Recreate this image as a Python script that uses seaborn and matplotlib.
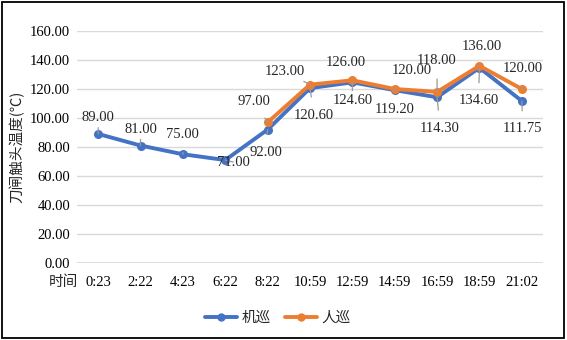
import numpy as np
import pandas as pd
import matplotlib
matplotlib.use("Agg")
import matplotlib.pyplot as plt
import seaborn as sns
from matplotlib.patches import Rectangle
from matplotlib.lines import Line2D

times = ["0:23", "2:22", "4:23", "6:22", "8:22", "10:59", "12:59", "14:59", "16:59", "18:59", "21:02"]
machine = [89.00, 81.00, 75.00, 71.00, 92.00, 120.60, 124.60, 119.20, 114.30, 134.60, 111.75]
manual = [np.nan, np.nan, np.nan, np.nan, 97.00, 123.00, 126.00, 120.00, 118.00, 136.00, 120.00]
yticks = [0, 20, 40, 60, 80, 100, 120, 140, 160]
series_names = ["机巡", "人巡"]
ylabel = "刀闸触头温度(℃)"
xtitle = "时间"

sns.set_theme(style="white")
SERIF = ["Liberation Serif", "Noto Sans CJK SC", "DejaVu Sans"]
CJK = ["Noto Sans CJK SC", "DejaVu Sans"]
plt.rcParams["font.family"] = SERIF

df = pd.DataFrame({
    "idx": list(range(len(times))) * 2,
    "val": machine + manual,
    "series": [series_names[0]] * len(times) + [series_names[1]] * len(times),
})
df = df.dropna()

colors = {"机巡": "#4472C4", "人巡": "#ED7D31"}

fig = plt.figure(figsize=(5.67, 3.40), dpi=100)
ax = fig.add_axes([77/567, 1 - 263/340, (543-77)/567, (263-31)/340])

sns.lineplot(data=df, x="idx", y="val", hue="series", palette=colors,
             marker="o", markersize=6.5, markeredgewidth=0, linewidth=2.8,
             ax=ax, legend=False, sort=False, zorder=3)

ax.set_xlim(-0.5, len(times) - 0.5)
ax.set_ylim(0, 160)
ax.set_yticks(yticks)
ax.set_yticklabels([f"{v:.2f}" for v in yticks], fontsize=10.5, family=SERIF)
ax.set_xticks(range(len(times)))
ax.set_xticklabels(times, fontsize=10.5, family=SERIF)
ax.tick_params(axis="y", length=0, pad=5, colors="black")
ax.tick_params(axis="x", length=0, pad=9, colors="black")
ax.grid(axis="y", color="#D9D9D9", linewidth=1)
ax.grid(axis="x", visible=False)
for s in ax.spines.values():
    s.set_visible(False)
ax.axhline(0, color="#D9D9D9", linewidth=1.2, zorder=1)
ax.set_xlabel("")
ax.set_ylabel(ylabel, fontsize=10.5, labelpad=4, family=CJK)
ax.text(0.002, -0.083, xtitle, transform=ax.transAxes, ha="right", va="center",
        fontsize=10.5, family=CJK)

# data label offsets (pixels)
m_off = [(0, 16), (0, 16), (0, 20), (8, -2), (-2, -23), (4, -27), (0, -18), (0, -19), (3, -31), (-1, -33), (1, -28)]
h_off = [None, None, None, None, (-14, 21), (-25, 13), (-7, 18), (17, 18), (0, 31), (2, 19), (1, 21)]

arrow = dict(arrowstyle="-", color="#9A9A9A", lw=0.9, shrinkA=6, shrinkB=0)
for i, v in enumerate(machine):
    dx, dy = m_off[i]
    ax.annotate(f"{v:.2f}", (i, v), xytext=(dx, dy), textcoords="offset pixels",
                ha="center", va="center", fontsize=10.5, zorder=5, family=SERIF,
                arrowprops=arrow)
for i, v in enumerate(manual):
    if np.isnan(v):
        continue
    dx, dy = h_off[i]
    ax.annotate(f"{v:.2f}", (i, v), xytext=(dx, dy), textcoords="offset pixels",
                ha="center", va="center", fontsize=10.5, zorder=5, family=SERIF,
                arrowprops=arrow)

handles = [Line2D([], [], color=colors[n], lw=2.8, marker="o", markersize=6, markeredgewidth=0) for n in series_names]
fig.legend(handles, series_names, loc="center", bbox_to_anchor=(278/567, 1 - 318/340), ncol=2,
           frameon=False, handlelength=2.2, columnspacing=1.0, handletextpad=0.3,
           prop={"family": CJK, "size": 10.5})

fig.patches.append(Rectangle((0.003, 0.005), 0.992, 0.99, transform=fig.transFigure,
                             fill=False, edgecolor="black", linewidth=1.3))

fig.savefig("out.png", dpi=100)
